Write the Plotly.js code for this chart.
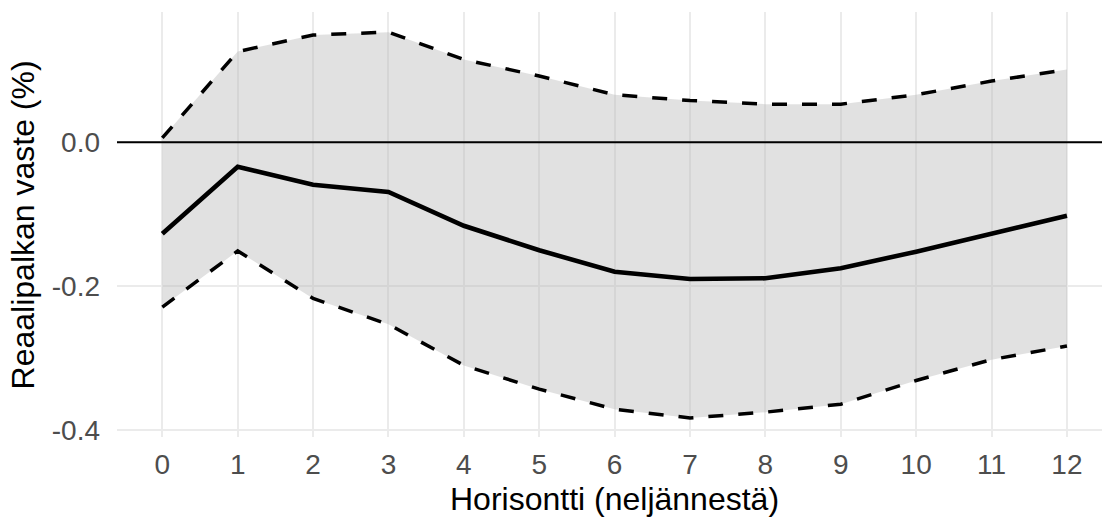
<!DOCTYPE html>
<html>
<head>
<meta charset="utf-8">
<script src="https://cdn.plot.ly/plotly-3.0.1.min.js"></script>
<style>html,body{margin:0;padding:0;background:#fff;}#chart{width:1102px;height:519px;}</style>
</head>
<body>
<div id="chart"></div>
<script>
const horizon = [0,1,2,3,4,5,6,7,8,9,10,11,12];
const response = [-0.127,-0.034,-0.059,-0.069,-0.116,-0.150,-0.180,-0.190,-0.189,-0.175,-0.152,-0.127,-0.102];
const upper = [0.006,0.126,0.149,0.153,0.115,0.092,0.066,0.058,0.053,0.053,0.066,0.085,0.101];
const lower = [-0.229,-0.151,-0.217,-0.253,-0.310,-0.343,-0.371,-0.383,-0.375,-0.364,-0.331,-0.302,-0.283];
const xTickVals = [0,1,2,3,4,5,6,7,8,9,10,11,12];
const yTickVals = [0.0,-0.2,-0.4];
const yTickText = ['0.0','-0.2','-0.4'];
const refLine = 0;
const xTitle = 'Horisontti (neljännestä)';
const yTitle = 'Reaalipalkan vaste (%)';

const band = {
  x: horizon.concat(horizon.slice().reverse()),
  y: upper.concat(lower.slice().reverse()),
  type: 'scatter', mode: 'lines', fill: 'toself',
  fillcolor: 'rgba(179,179,179,0.4)', line: {width: 0, color: 'rgba(0,0,0,0)'},
  hoverinfo: 'skip', showlegend: false
};
const up = {x: horizon, y: upper, type: 'scatter', mode: 'lines',
  line: {color: '#000', width: 3.5, dash: '15px,15px'}, showlegend: false};
const lo = {x: horizon, y: lower, type: 'scatter', mode: 'lines',
  line: {color: '#000', width: 3.5, dash: '15px,15px'}, showlegend: false};
const mid = {x: horizon, y: response, type: 'scatter', mode: 'lines',
  line: {color: '#000', width: 4.6}, showlegend: false};

const font = 'Liberation Sans, Arial, sans-serif';
const layout = {
  width: 1102, height: 519,
  margin: {l: 117, r: 0, t: 12, b: 82, pad: 0},
  paper_bgcolor: '#fff', plot_bgcolor: '#fff',
  font: {family: font},
  xaxis: {
    range: [-0.601, 12.465], tickvals: xTickVals, ticktext: xTickVals.map(String),
    showgrid: true, gridcolor: '#ebebeb', gridwidth: 2, zeroline: false,
    showline: false, ticks: '', ticklabelstandoff: 8,
    tickfont: {family: font, size: 28, color: '#4d4d4d'}
  },
  yaxis: {
    range: [-0.4095, 0.181], tickvals: yTickVals, ticktext: yTickText,
    showgrid: true, gridcolor: '#ebebeb', gridwidth: 2,
    zeroline: false,
    showline: false, ticks: '', ticklabelstandoff: 16,
    tickfont: {family: font, size: 28, color: '#4d4d4d'}
  },
  shapes: [
    {type: 'line', xref: 'paper', yref: 'y', x0: 0, x1: 1, y0: refLine, y1: refLine,
     line: {color: '#000', width: 2.2}, layer: 'above'}
  ],
  annotations: [
    {text: xTitle, xref: 'x', yref: 'paper', x: 6, y: -0.146, xanchor: 'center', yanchor: 'middle',
     showarrow: false, font: {family: font, size: 32, color: '#000'}},
    {text: yTitle, xref: 'paper', yref: 'paper', x: -0.0955, y: 0.5, xanchor: 'center', yanchor: 'middle',
     textangle: -90, showarrow: false, font: {family: font, size: 32, color: '#000'}}
  ]
};
Plotly.newPlot('chart', [band, up, lo, mid], layout, {displayModeBar: false, staticPlot: true});
</script>
</body>
</html>
